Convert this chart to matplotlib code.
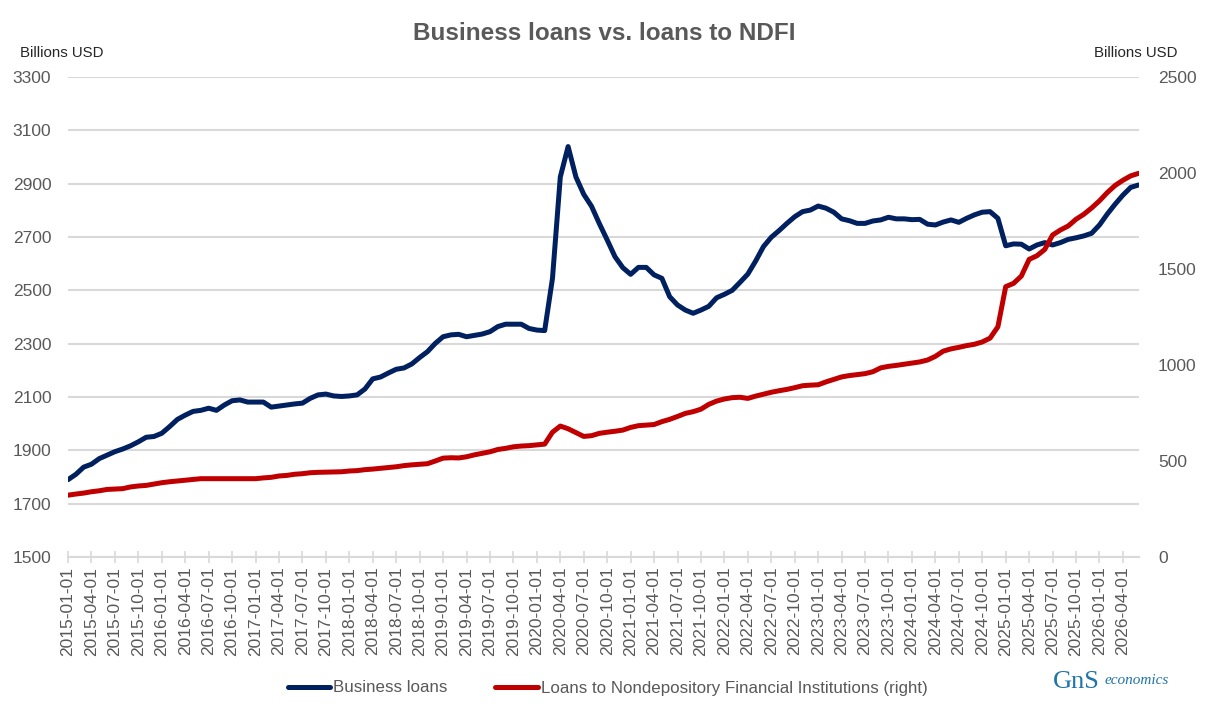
import numpy as np
import pandas as pd
import matplotlib
matplotlib.use("Agg")
import matplotlib.pyplot as plt

# monthly observations, 2015-01 .. 2026-06
dates = pd.date_range("2015-01-01", periods=138, freq="MS")

# Business loans, billions USD (left axis)
business_loans = [
    1790, 1810, 1837, 1848, 1869, 1882, 1895, 1905, 1917, 1932, 1949, 1952,
    1964, 1989, 2016, 2032, 2046, 2050, 2058, 2050, 2070, 2086, 2089, 2081,
    2081, 2081, 2062, 2066, 2070, 2074, 2077, 2095, 2108, 2111, 2104, 2102,
    2104, 2108, 2130, 2168, 2175, 2190, 2204, 2209, 2224, 2248, 2270, 2301,
    2326, 2333, 2335, 2326, 2331, 2336, 2345, 2364, 2373, 2373, 2373, 2357,
    2351, 2349, 2545, 2925, 3039, 2925, 2860, 2815, 2750, 2689, 2626, 2585,
    2560, 2586, 2586, 2558, 2545, 2476, 2445, 2426, 2414, 2426, 2440, 2472,
    2485, 2500, 2530, 2561, 2610, 2664, 2699, 2724, 2751, 2776, 2795, 2801,
    2816, 2808, 2793, 2768, 2761, 2751, 2751, 2760, 2764, 2774, 2768, 2768,
    2765, 2766, 2748, 2745, 2756, 2764, 2755, 2770, 2783, 2793, 2795, 2770,
    2667, 2674, 2673, 2655, 2670, 2679, 2670, 2679, 2691, 2697, 2704, 2714,
    2745, 2786, 2823, 2857, 2886, 2895,
]

# Loans to nondepository financial institutions, billions USD (right axis)
ndfi_loans = [
    322, 328, 333, 340, 345, 352, 354, 356, 365, 370, 373, 380,
    387, 392, 396, 400, 404, 408, 408, 408, 408, 408, 408, 408,
    408, 412, 415, 422, 425, 431, 434, 439, 441, 442, 443, 444,
    448, 450, 455, 458, 462, 466, 470, 476, 480, 483, 486, 500,
    515, 517, 516, 522, 532, 540, 548, 560, 566, 574, 578, 580,
    584, 588, 650, 682, 668, 648, 628, 632, 644, 650, 655, 661,
    675, 684, 687, 690, 705, 717, 732, 748, 757, 770, 795, 812,
    823, 830, 832, 826, 838, 848, 858, 866, 873, 882, 892, 895,
    897, 912, 925, 938, 945, 950, 955, 965, 985, 993, 998, 1004,
    1010, 1016, 1026, 1045, 1072, 1084, 1092, 1101, 1108, 1120, 1140, 1199,
    1408, 1425, 1463, 1550, 1569, 1602, 1677, 1703, 1724, 1759, 1785, 1818,
    1855, 1898, 1935, 1962, 1985, 1998,
]

grey = "#595959"
plt.rcParams["font.family"] = ["Liberation Sans", "DejaVu Sans"]

fig = plt.figure(figsize=(12.08, 7.18), dpi=100)
ax = fig.add_axes([0.0563, 0.2242, 0.8862, 0.6686])
ax2 = ax.twinx()

x = np.arange(len(dates))
ax.plot(x, business_loans, color="#002060", lw=3.6, solid_capstyle="round",
        label="Business loans")
ax2.plot(x, ndfi_loans, color="#C00000", lw=3.6, solid_capstyle="round",
         label="Loans to Nondepository Financial Institutions (right)")

ax.set_xlim(0, len(dates) - 1)
ax.set_ylim(1500, 3300)
ax.set_yticks(np.arange(1500, 3301, 200))
ax2.set_ylim(0, 2500)
ax2.set_yticks(np.arange(0, 2501, 500))

tick_pos = x[::3]
ax.set_xticks(tick_pos)
ax.set_xticklabels([d.strftime("%Y-%m-%d") for d in dates[::3]], rotation=90)

ax.grid(axis="y", color="#D9D9D9", lw=1.5)
ax.set_axisbelow(True)
for a in (ax, ax2):
    for s in ("top", "left", "right"):
        a.spines[s].set_visible(False)
    a.spines["bottom"].set_color("#D9D9D9")
    a.spines["bottom"].set_linewidth(1.5)
ax2.spines["bottom"].set_visible(False)

ax.tick_params(axis="x", direction="inout", length=8, width=1.2, color="#D9D9D9",
               labelcolor=grey, labelsize=12.5, pad=3)
ax.tick_params(axis="y", length=0, labelcolor=grey, labelsize=12.5, pad=12)
ax2.tick_params(axis="y", length=0, labelcolor=grey, labelsize=12.5, pad=14)

fig.text(0.5, 1 - 33 / 718, "Business loans vs. loans to NDFI", ha="center", va="center",
         fontsize=17.5, fontweight="bold", color=grey)
fig.text(20 / 1208, 1 - 53 / 718, "Billions USD", ha="left", va="center",
         fontsize=10.8, color="#262626")
fig.text(1177 / 1208, 1 - 53 / 718, "Billions USD", ha="right", va="center",
         fontsize=10.8, color="#262626")

h1, l1 = ax.get_legend_handles_labels()
h2, l2 = ax2.get_legend_handles_labels()
leg = fig.legend(h1 + h2, l1 + l2, loc="center", bbox_to_anchor=(0.503, 1 - 688 / 718),
                 ncol=2, frameon=False, handlelength=2.5, columnspacing=2.8,
                 handletextpad=0.2, prop={"size": 12.2})
for t in leg.get_texts():
    t.set_color(grey)

# logo text
fig.text(1053 / 1208, 1 - 682 / 718, "GnS", ha="left", va="center", fontsize=19,
         color="#1f74a8", family=["Liberation Serif", "DejaVu Serif"])
fig.text(1105 / 1208, 1 - 680 / 718, "economics", ha="left", va="center", fontsize=11,
         color="#1f74a8", family=["Liberation Serif", "DejaVu Serif"], style="italic")

fig.savefig("out.png", dpi=100)
